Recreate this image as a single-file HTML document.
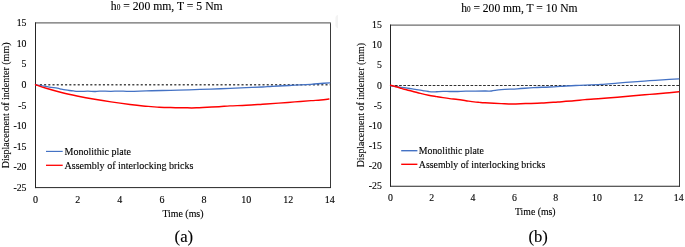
<!DOCTYPE html>
<html>
<head>
<meta charset="utf-8">
<title>Displacement of indenter</title>
<style>
  html, body { margin: 0; padding: 0; background: #ffffff; }
  body { width: 685px; height: 247px; overflow: hidden; }
  svg { display: block; will-change: transform; font-family: "Liberation Serif", serif; fill: #000; }
  svg text { stroke: #000; stroke-width: 0.12px; }
  .blue { stroke: #4472c4; stroke-width: 1.3; fill: none; stroke-linejoin: round; stroke-linecap: round; }
  .red { stroke: #ff0000; stroke-width: 1.45; fill: none; stroke-linejoin: round; stroke-linecap: round; }
</style>
</head>
<body>
<svg width="685" height="247" viewBox="0 0 685 247">
  <!-- faint artifact between the two charts -->
  <path d="M338 15 L337.6 15 Q335.4 15.4 335.4 18 L335.4 25.2 Q335.4 27.8 337.6 28.2 L338 28.2 Z" fill="#f3f3f3" stroke="none"/>

  <g id="chartA">
    <text x="110.80" y="9.60" font-size="11.70">h<tspan font-size="7.3">0</tspan> = 200 mm, T = 5 Nm</text>
    <line x1="35.50" y1="22.90" x2="330.90" y2="22.90" stroke="#6c6c6c" stroke-width="1.35"/>
    <line x1="330.50" y1="23.20" x2="330.50" y2="188.00" stroke="#3a3a3a" stroke-width="1"/>
    <line x1="35.50" y1="22.30" x2="35.50" y2="188.10" stroke="#262626" stroke-width="1"/>
    <line x1="35.00" y1="187.60" x2="331.00" y2="187.60" stroke="#262626" stroke-width="1"/>
    <line x1="39.90" y1="84.70" x2="330.00" y2="84.70" stroke="#4a4a4a" stroke-width="1.40" stroke-dasharray="2.05 2.15"/>
    <path class="blue" d="M35.50 84.70 C36.43 84.85 38.82 85.20 41.10 85.60 C43.38 86.00 46.50 86.67 49.20 87.10 C51.90 87.53 55.28 87.87 57.30 88.20 C59.32 88.53 59.95 88.82 61.30 89.10 C62.65 89.38 64.05 89.67 65.40 89.90 C66.75 90.13 68.05 90.33 69.40 90.50 C70.75 90.67 72.15 90.82 73.50 90.95 C74.85 91.08 76.15 91.23 77.50 91.30 C78.85 91.37 79.85 91.37 81.60 91.35 C83.35 91.33 85.82 91.17 88.00 91.20 C90.18 91.23 92.77 91.52 94.70 91.50 C96.63 91.48 96.90 91.13 99.60 91.10 C102.30 91.07 107.67 91.31 110.90 91.30 C114.13 91.29 115.82 91.03 119.00 91.05 C122.18 91.07 125.47 91.43 130.00 91.40 C134.53 91.38 140.80 91.05 146.20 90.90 C151.60 90.75 157.02 90.62 162.40 90.50 C167.78 90.38 173.12 90.35 178.50 90.20 C183.88 90.05 189.30 89.78 194.70 89.60 C200.10 89.42 205.02 89.30 210.90 89.10 C216.78 88.90 224.12 88.63 230.00 88.40 C235.88 88.17 240.80 87.93 246.20 87.70 C251.60 87.47 258.43 87.20 262.40 87.00 C266.37 86.80 267.30 86.67 270.00 86.50 C272.70 86.33 274.47 86.22 278.60 86.00 C282.73 85.78 289.40 85.48 294.80 85.20 C300.20 84.92 306.67 84.58 311.00 84.30 C315.33 84.02 317.68 83.75 320.80 83.50 C323.92 83.25 328.22 82.92 329.70 82.80"/>
    <path class="red" d="M35.50 84.70 C37.28 85.30 41.72 86.95 46.20 88.30 C50.68 89.65 57.27 91.52 62.40 92.80 C67.53 94.08 71.62 94.92 77.00 96.00 C82.38 97.08 89.03 98.32 94.70 99.30 C100.37 100.28 105.12 101.03 111.00 101.90 C116.88 102.77 124.67 103.82 130.00 104.50 C135.33 105.18 139.48 105.65 143.00 106.00 C146.52 106.35 148.40 106.38 151.10 106.60 C153.80 106.82 156.50 107.16 159.20 107.30 C161.90 107.44 164.60 107.38 167.30 107.45 C170.00 107.52 172.70 107.66 175.40 107.70 C178.10 107.74 180.80 107.67 183.50 107.70 C186.20 107.73 189.18 107.90 191.60 107.90 C194.02 107.90 196.13 107.77 198.00 107.70 C199.87 107.63 199.30 107.67 202.80 107.50 C206.30 107.33 214.47 106.97 219.00 106.70 C223.53 106.43 225.47 106.13 230.00 105.90 C234.53 105.67 240.80 105.58 246.20 105.30 C251.60 105.02 257.00 104.61 262.40 104.25 C267.80 103.89 273.20 103.55 278.60 103.15 C284.00 102.75 289.40 102.27 294.80 101.85 C300.20 101.43 306.67 100.96 311.00 100.65 C315.33 100.34 317.82 100.28 320.80 100.00 C323.78 99.72 327.55 99.17 328.90 99.00"/>
    <g font-size="9.80" text-anchor="end">
      <text x="26.50" y="26.20">15</text>
      <text x="26.50" y="46.79">10</text>
      <text x="26.50" y="67.37">5</text>
      <text x="26.50" y="87.96">0</text>
      <text x="26.50" y="108.55">-5</text>
      <text x="26.50" y="129.14">-10</text>
      <text x="26.50" y="149.72">-15</text>
      <text x="26.50" y="170.31">-20</text>
      <text x="26.50" y="190.90">-25</text>
    </g>
    <g font-size="10.00" text-anchor="middle">
      <text x="35.50" y="202.60">0</text>
      <text x="77.64" y="202.60">2</text>
      <text x="119.79" y="202.60">4</text>
      <text x="161.93" y="202.60">6</text>
      <text x="204.07" y="202.60">8</text>
      <text x="246.21" y="202.60">10</text>
      <text x="288.36" y="202.60">12</text>
      <text x="329.70" y="202.60">14</text>
    </g>
    <text x="162.40" y="216.70" font-size="9.90">Time (ms)</text>
    <text transform="translate(8.50,168.30) rotate(-90)" font-size="10.00">Displacement of indenter (mm)</text>
    <line x1="46.00" y1="151.40" x2="62.70" y2="151.40" stroke="#4472c4" stroke-width="1.15"/>
    <text x="64.50" y="154.50" font-size="10.00">Monolithic plate</text>
    <line x1="46.00" y1="165.30" x2="62.70" y2="165.30" stroke="#ff0000" stroke-width="1.30"/>
    <text x="64.50" y="169.00" font-size="10.04">Assembly of interlocking bricks</text>
    <text x="174.60" y="242.20" font-size="16.70">(a)</text>
  </g>

  <g id="chartB">
    <text x="461.20" y="11.50" font-size="11.55">h<tspan font-size="7.2">0</tspan> = 200 mm, T = 10 Nm</text>
    <line x1="390.50" y1="25.10" x2="679.90" y2="25.10" stroke="#6c6c6c" stroke-width="1.35"/>
    <line x1="679.50" y1="25.40" x2="679.50" y2="186.65" stroke="#3a3a3a" stroke-width="1"/>
    <line x1="390.50" y1="24.50" x2="390.50" y2="186.75" stroke="#262626" stroke-width="1"/>
    <line x1="390.00" y1="186.25" x2="680.00" y2="186.25" stroke="#262626" stroke-width="1"/>
    <line x1="394.90" y1="85.50" x2="679.00" y2="85.50" stroke="#1a1a1a" stroke-width="0.90" stroke-dasharray="2.7 1.5"/>
    <path class="blue" d="M390.60 85.80 C391.52 85.93 393.83 86.28 396.10 86.60 C398.37 86.92 401.50 87.32 404.20 87.70 C406.90 88.08 409.60 88.50 412.30 88.90 C415.00 89.30 418.38 89.77 420.40 90.10 C422.42 90.43 423.05 90.67 424.40 90.90 C425.75 91.13 427.15 91.33 428.50 91.50 C429.85 91.67 431.15 91.86 432.50 91.90 C433.85 91.94 434.85 91.83 436.60 91.75 C438.35 91.67 440.82 91.44 443.00 91.40 C445.18 91.36 447.23 91.48 449.70 91.50 C452.17 91.52 455.10 91.55 457.80 91.50 C460.50 91.45 461.37 91.28 465.90 91.20 C470.43 91.12 480.73 91.03 485.00 91.00 C489.27 90.97 488.80 91.23 491.50 91.00 C494.20 90.77 496.88 89.97 501.20 89.60 C505.52 89.23 512.02 89.13 517.40 88.80 C522.78 88.47 528.12 87.90 533.50 87.60 C538.88 87.30 544.30 87.27 549.70 87.00 C555.10 86.73 561.58 86.25 565.90 86.00 C570.22 85.75 572.42 85.63 575.60 85.50 C578.78 85.37 580.73 85.38 585.00 85.20 C589.27 85.02 595.80 84.75 601.20 84.40 C606.60 84.05 612.02 83.53 617.40 83.10 C622.78 82.67 628.12 82.20 633.50 81.80 C638.88 81.40 644.30 81.07 649.70 80.70 C655.10 80.33 661.03 79.92 665.90 79.60 C670.77 79.28 676.73 78.93 678.90 78.80"/>
    <path class="red" d="M390.60 85.30 C391.52 85.53 394.52 86.25 396.10 86.70 C397.68 87.15 398.75 87.57 400.10 88.00 C401.45 88.43 402.17 88.77 404.20 89.30 C406.23 89.83 409.60 90.52 412.30 91.20 C415.00 91.88 417.70 92.73 420.40 93.40 C423.10 94.07 425.80 94.67 428.50 95.20 C431.20 95.73 434.18 96.19 436.60 96.60 C439.02 97.01 440.82 97.32 443.00 97.65 C445.18 97.98 447.23 98.29 449.70 98.60 C452.17 98.91 455.10 99.15 457.80 99.50 C460.50 99.85 463.20 100.30 465.90 100.70 C468.60 101.10 471.75 101.62 474.00 101.90 C476.25 102.18 477.57 102.25 479.40 102.40 C481.23 102.55 481.37 102.60 485.00 102.80 C488.63 103.00 496.62 103.40 501.20 103.60 C505.78 103.80 508.45 104.01 512.50 104.00 C516.55 103.99 520.65 103.71 525.50 103.55 C530.35 103.39 536.22 103.32 541.60 103.05 C546.98 102.78 552.40 102.33 557.80 101.95 C563.20 101.58 569.47 101.19 574.00 100.80 C578.53 100.41 580.47 99.98 585.00 99.60 C589.53 99.22 595.80 98.90 601.20 98.50 C606.60 98.10 612.02 97.67 617.40 97.20 C622.78 96.73 628.12 96.17 633.50 95.70 C638.88 95.23 644.30 94.85 649.70 94.40 C655.10 93.95 661.03 93.45 665.90 93.00 C670.77 92.55 676.73 91.92 678.90 91.70"/>
    <g font-size="9.80" text-anchor="end">
      <text x="381.80" y="28.15">15</text>
      <text x="381.80" y="48.29">10</text>
      <text x="381.80" y="68.44">5</text>
      <text x="381.80" y="88.58">0</text>
      <text x="381.80" y="108.73">-5</text>
      <text x="381.80" y="128.87">-10</text>
      <text x="381.80" y="149.01">-15</text>
      <text x="381.80" y="169.16">-20</text>
      <text x="381.80" y="189.30">-25</text>
    </g>
    <g font-size="9.80" text-anchor="middle">
      <text x="390.50" y="200.70">0</text>
      <text x="431.79" y="200.70">2</text>
      <text x="473.07" y="200.70">4</text>
      <text x="514.36" y="200.70">6</text>
      <text x="555.64" y="200.70">8</text>
      <text x="596.93" y="200.70">10</text>
      <text x="638.21" y="200.70">12</text>
      <text x="678.70" y="200.70">14</text>
    </g>
    <text x="515.00" y="214.70" font-size="9.75">Time (ms)</text>
    <text transform="translate(363.60,167.30) rotate(-90)" font-size="9.88">Displacement of indenter (mm)</text>
    <line x1="401.20" y1="150.70" x2="417.40" y2="150.70" stroke="#4472c4" stroke-width="1.40"/>
    <text x="418.80" y="153.50" font-size="9.82">Monolithic plate</text>
    <line x1="401.20" y1="164.30" x2="417.40" y2="164.30" stroke="#ff0000" stroke-width="1.40"/>
    <text x="418.80" y="167.75" font-size="9.86">Assembly of interlocking bricks</text>
    <text x="528.40" y="242.00" font-size="16.60">(b)</text>
  </g>
</svg>
</body>
</html>
